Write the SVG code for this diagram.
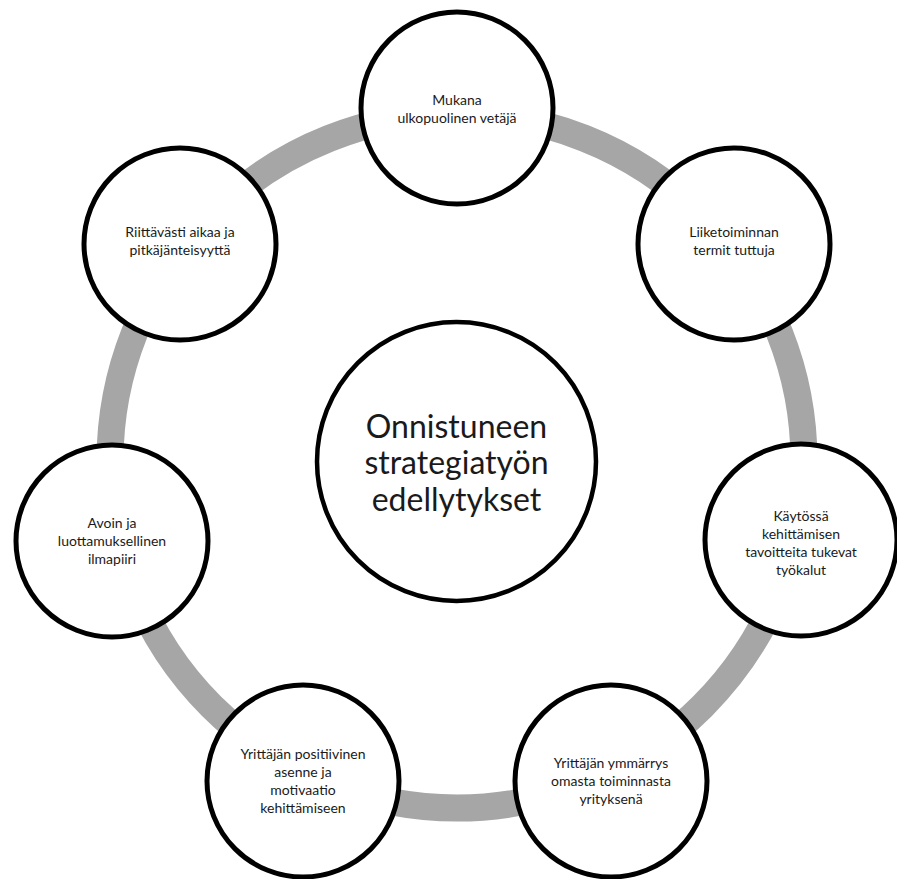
<svg xmlns="http://www.w3.org/2000/svg" width="897" height="879" viewBox="0 0 897 879">
<style>
.ring{fill:none;stroke:#a6a6a6;stroke-width:27}
.sat{fill:#fff;stroke:#000;stroke-width:5}
.hub{fill:#fff;stroke:#000;stroke-width:4.5}
.t{font-family:Lato,"Liberation Sans",sans-serif;font-size:14px;fill:#1a1a1a;text-anchor:middle}
.ht{font-family:Lato,"Liberation Sans",sans-serif;font-size:32px;fill:#1a1a1a;text-anchor:middle}
</style>
<rect width="897" height="879" fill="#fff"/>
<g id="connectors">
<circle class="ring" cx="457" cy="461" r="347"/>
</g>
<g id="hub">
<circle class="hub" cx="456.5" cy="461.5" r="139.5"/>
<text class="ht" x="456.5" y="438">Onnistuneen</text>
<text class="ht" x="456.5" y="474">strategiatyön</text>
<text class="ht" x="456.5" y="511">edellytykset</text>
</g>
<g id="n1">
<circle class="sat" cx="457" cy="108" r="96"/>
<text class="t" x="457" y="105">Mukana</text>
<text class="t" x="457" y="123">ulkopuolinen vetäjä</text>
</g>
<g id="n2">
<circle class="sat" cx="734" cy="244" r="96"/>
<text class="t" x="734" y="237">Liiketoiminnan</text>
<text class="t" x="734" y="255">termit tuttuja</text>
</g>
<g id="n3">
<circle class="sat" cx="801" cy="540" r="96"/>
<text class="t" x="801" y="521">Käytössä</text>
<text class="t" x="801" y="539">kehittämisen</text>
<text class="t" x="801" y="557">tavoitteita tukevat</text>
<text class="t" x="801" y="575">työkalut</text>
</g>
<g id="n4">
<circle class="sat" cx="611" cy="781" r="96"/>
<text class="t" x="611" y="768">Yrittäjän ymmärrys</text>
<text class="t" x="611" y="786">omasta toiminnasta</text>
<text class="t" x="611" y="804">yrityksenä</text>
</g>
<g id="n5">
<circle class="sat" cx="303" cy="781" r="96"/>
<text class="t" x="303" y="759">Yrittäjän positiivinen</text>
<text class="t" x="303" y="777">asenne ja</text>
<text class="t" x="303" y="795">motivaatio</text>
<text class="t" x="303" y="813">kehittämiseen</text>
</g>
<g id="n6">
<circle class="sat" cx="112" cy="541" r="96"/>
<text class="t" x="112" y="528">Avoin ja</text>
<text class="t" x="112" y="546">luottamuksellinen</text>
<text class="t" x="112" y="564">ilmapiiri</text>
</g>
<g id="n7">
<circle class="sat" cx="180" cy="244" r="96"/>
<text class="t" x="180" y="237">Riittävästi aikaa ja</text>
<text class="t" x="180" y="255">pitkäjänteisyyttä</text>
</g>
</svg>
